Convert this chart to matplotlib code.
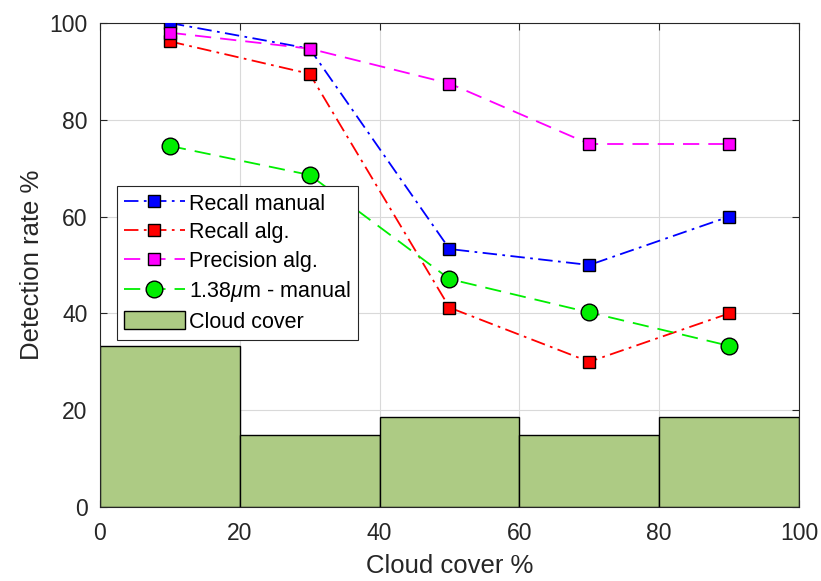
import matplotlib.pyplot as plt

# bins of cloud cover (%), centres for the curves
bin_edges = [0, 20, 40, 60, 80, 100]
bin_centres = [10, 30, 50, 70, 90]

# detection rates (%)
recall_manual = [100.0, 94.7, 53.3, 50.0, 60.0]
recall_alg = [96.2, 89.5, 41.2, 30.0, 40.0]
precision_alg = [98.0, 94.7, 87.5, 75.0, 75.0]
manual_138 = [74.6, 68.6, 47.1, 40.2, 33.3]

# cloud cover histogram (% of scenes per bin)
cloud_cover = [33.3, 14.8, 18.5, 14.8, 18.5]

plt.rcParams["font.family"] = ["Liberation Sans", "DejaVu Sans"]
plt.rcParams["mathtext.fontset"] = "custom"
plt.rcParams["mathtext.rm"] = "Liberation Sans"
plt.rcParams["mathtext.it"] = "Liberation Sans:italic"

fig = plt.figure(figsize=(8.21, 5.81), dpi=100)
ax = fig.add_axes([0.1218, 0.1274, 0.8514, 0.833])

# histogram of cloud cover as bars
widths = [bin_edges[i + 1] - bin_edges[i] for i in range(len(cloud_cover))]
ax.bar(bin_edges[:-1], cloud_cover, width=widths, align="edge",
       color="#adcb84", edgecolor="black", linewidth=1.0,
       label="Cloud cover", zorder=2)

# detection curves
dashdot = (8, 3, 1.5, 3)
dashed = (9, 5)
ax.plot(bin_centres, recall_manual, color="blue", dashes=dashdot, lw=1.3,
        marker="s", markersize=8, markerfacecolor="blue",
        markeredgecolor="black", label="Recall manual", zorder=3)
ax.plot(bin_centres, recall_alg, color="red", dashes=dashdot, lw=1.3,
        marker="s", markersize=8, markerfacecolor="red",
        markeredgecolor="black", label="Recall alg.", zorder=3)
ax.plot(bin_centres, precision_alg, color="magenta", dashes=dashed, lw=1.3,
        marker="s", markersize=8, markerfacecolor="magenta",
        markeredgecolor="black", label="Precision alg.", zorder=3)
ax.plot(bin_centres, manual_138, color="#00ee00", dashes=dashed, lw=1.3,
        marker="o", markersize=12, markerfacecolor="#00ee00",
        markeredgecolor="black", label=r"1.38$\mu$m - manual", zorder=3)

ax.set_xlim(0, 100)
ax.set_ylim(0, 100)
ax.set_xticks(range(0, 101, 20))
ax.set_yticks(range(0, 101, 20))
ax.grid(True, color="#d9d9d9", linewidth=0.8, zorder=0)
ax.set_axisbelow(True)
ax.tick_params(direction="in", top=True, right=True, labelsize=16.5,
               length=5, colors="#262626")
ax.tick_params(axis="x", pad=11)
ax.tick_params(axis="y", pad=9)
for sp in ax.spines.values():
    sp.set_color("#262626")
    sp.set_linewidth(0.8)

ax.set_xlabel("Cloud cover %", fontsize=18.5, color="#262626", labelpad=6)
ax.set_ylabel("Detection rate %", fontsize=18.5, color="#262626", labelpad=4)

leg = ax.legend(loc="upper left", bbox_to_anchor=(0.024, 0.663),
                fontsize=15.5, fancybox=False, framealpha=1,
                edgecolor="#262626", borderaxespad=0, handlelength=2.85,
                handleheight=0.93, labelspacing=0.33, borderpad=0.32,
                handletextpad=0.2)
leg.get_frame().set_linewidth(0.8)

fig.savefig("out.png", dpi=100)
